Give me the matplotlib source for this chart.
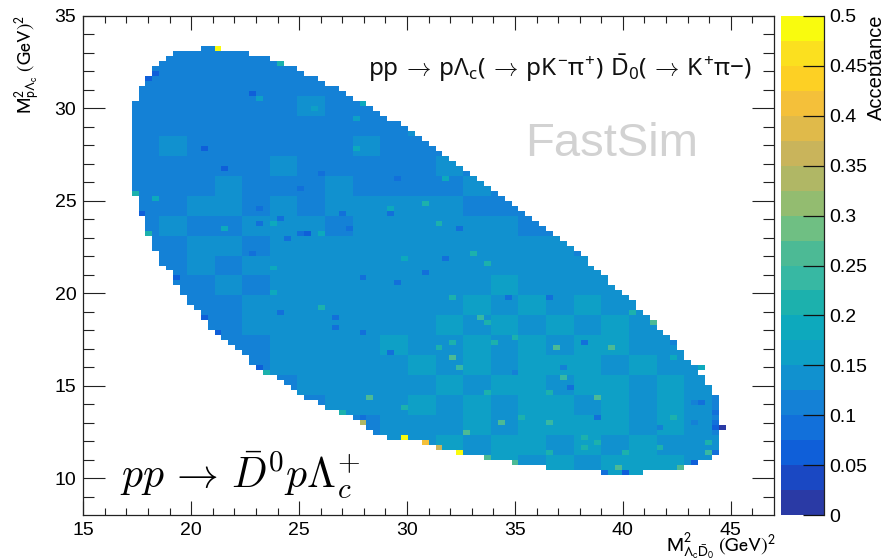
import numpy as np
import matplotlib
matplotlib.use("Agg")
import matplotlib.pyplot as plt
from matplotlib.colors import ListedColormap, BoundaryNorm

plt.rcParams['font.family'] = ['Liberation Sans', 'DejaVu Sans']
plt.rcParams['mathtext.fontset'] = 'custom'
plt.rcParams['mathtext.rm'] = 'Noto Sans'
plt.rcParams['mathtext.it'] = 'Noto Sans'
plt.rcParams['mathtext.bf'] = 'Noto Sans'
plt.rcParams['mathtext.default'] = 'it'

# 100 x 100 bins over the axis ranges
x_range = [15, 47]
y_range = [8, 35]
n_bins = 100

first_row = 8
row_first = [75,67,62,58,55,51,49,44,42,41,40,39,37,35,34,32,31,30,29,28,26,25,24,24,23,22,21,20,19,18,18,17,17,16,15,15,
             14,14,13,13,13,12,11,11,11,10,10,10,9,9,9,9,8,8,8,8,7,7,7,7,7,7,7,7,7,7,7,7,7,7,7,7,7,7,7,8,8,8,9,9,10,10,11,12,13,17]
row_last = [80,86,88,90,91,91,91,91,91,92,91,91,91,91,91,91,90,90,89,89,88,88,87,86,86,85,85,84,83,82,82,81,80,79,79,78,
            77,76,75,75,74,73,72,72,71,70,69,68,67,66,65,64,63,62,61,60,59,58,57,56,55,54,53,52,51,50,49,48,47,46,45,43,42,41,40,38,37,36,34,33,31,30,28,26,23,19]

# acceptance band (units of 0.025) read per 4x4 bin block, bottom row first
block_levels = [
    "4444444444555656566655",
    "4444444445565665656555",
    "4444444445556566665654",
    "4444444555656566565654",
    "4444445555565665665654",
    "4444455555656566656554",
    "4444455556556565665544",
    "4444555555565656565544",
    "4444555555556565655444",
    "4445455555555655554444",
    "4454555555555555544444",
    "4455455555555555444444",
    "4544555455555544444444",
    "4455454555554444444444",
    "4445444544445444444444",
    "4444454444454444444444",
    "4544444454444444444444",
    "4444444444544444444444",
    "4444445444444444444444",
    "4444444444444444444444",
    "4444444444444444444444",
    "4444444444444444444444",
]
block_first_col = 7

# individually visible bins: row, column, acceptance
cell_rows = [93,90,87,88,84,83,82,79,73,64,63,60,56,57,73,69,56,81,39,36,28,29,20,19,18,15,14,23,21,47,
             13,12,11,10,16,18,33,33,38,40,23,29,31,27,24,43,18,9,8,8,9,10,12,12,17,17,15,13,19,22,34,43,
             68,65,61,58,59,56,57,60,52,55,60,47,46,39,36,40,51,48,57,32,37,67,
             58,52,50,39,38,43,31,34,34,33,61,58,41,62,67,51,49,44,56,
             35,19,24,13,12,12,14,31,29,14,25,19,22,20,18,17,29,28,18,34]
cell_cols = [19,28,9,10,24,25,40,39,39,7,10,8,9,20,17,20,32,33,17,19,26,25,37,40,40,46,49,41,46,13,
             51,54,58,62,55,60,68,76,82,79,74,54,53,69,58,67,67,77,78,75,86,88,90,91,92,91,72,83,85,88,72,61,
             34,31,25,25,28,31,38,37,24,29,44,40,45,36,40,28,52,49,54,44,36,45,
             51,56,58,57,58,53,53,53,59,51,44,27,34,49,52,46,27,27,34,
             62,63,67,72,67,78,74,85,89,90,70,74,89,91,91,83,69,62,88,85]
cell_vals = [.49,.20,.06,.07,.07,.17,.18,.17,.19,.20,.19,.06,.20,.18,.07,.07,.07,.17,.06,.05,.20,.06,.20,.08,.33,.49,.40,.25,.22,.07,
             .36,.49,.25,.25,.25,.27,.27,.25,.27,.22,.27,.24,.23,.23,.22,.08,.23,.25,.07,.08,.25,.06,.23,.08,.02,.07,.22,.21,.20,.10,.08,.09,
             .09,.09,.09,.09,.09,.09,.09,.09,.09,.09,.09,.09,.09,.09,.09,.09,.09,.09,.09,.09,.09,.09,
             .20,.22,.22,.24,.22,.20,.25,.21,.21,.22,.19,.19,.20,.20,.18,.19,.18,.19,.18,
             .20,.22,.20,.20,.20,.20,.20,.18,.19,.20,.09,.09,.09,.09,.08,.10,.10,.10,.10,.10]

band_colors = ['#2a3aa5','#1a48c3','#0f5fd9','#1270da','#1481d6','#1191cf','#0ea0c6','#0da9bd','#1cb1ad','#37b8a3',
               '#4cba95','#6fbf83','#93bc70','#b0b765','#c9b45b','#e0ba4a','#f4c03a','#fdd024','#fbe01f','#f9fb0e']
band_edges = [k * 0.025 for k in range(21)]
bar_ticks = [0, 0.05, 0.1, 0.15, 0.2, 0.25, 0.3, 0.35, 0.4, 0.45, 0.5]
bar_labels = ['0', '0.05', '0.1', '0.15', '0.2', '0.25', '0.3', '0.35', '0.4', '0.45', '0.5']
x_ticks = [15, 20, 25, 30, 35, 40, 45]
y_ticks = [10, 15, 20, 25, 30, 35]

W, H = 881, 559
fig = plt.figure(figsize=(W / 100, H / 100), dpi=100)
L, R, T, B = 83.3, 774, 16, 515
ax = fig.add_axes([L / W, 1 - B / H, (R - L) / W, (B - T) / H])

xe = np.linspace(*x_range, n_bins + 1)
ye = np.linspace(*y_range, n_bins + 1)
grid = np.full((n_bins, n_bins), np.nan)
for k, (a, b) in enumerate(zip(row_first, row_last)):
    i = first_row + k
    for j in range(a, b + 1):
        grid[i, j] = (int(block_levels[k // 4][(j - block_first_col) // 4]) + 0.5) * 0.025
for i, j, v in zip(cell_rows, cell_cols, cell_vals):
    grid[i, j] = v

cmap = ListedColormap(band_colors)
norm = BoundaryNorm(band_edges, cmap.N)
ax.pcolormesh(xe, ye, np.ma.masked_invalid(grid), cmap=cmap, norm=norm, linewidth=0, antialiased=False)
ax.set_xlim(*x_range)
ax.set_ylim(*y_range)

fs = 14
ink = '#222222'
ax.set_xticks(x_ticks)
ax.set_yticks(y_ticks)
ax.set_xticks(np.arange(16, 47), minor=True)
ax.set_yticks(np.arange(9, 35), minor=True)
ax.tick_params(axis='x', which='major', direction='in', top=True, length=10, width=0.8, color=ink, labelsize=fs, pad=5, labelcolor='black')
ax.tick_params(axis='x', which='minor', direction='in', top=True, length=5, width=0.8, color=ink)
ax.tick_params(axis='y', which='major', direction='in', right=True, length=15.6, width=0.8, color=ink, labelsize=fs, pad=5, labelcolor='black')
ax.tick_params(axis='y', which='minor', direction='in', right=True, length=7.8, width=0.8, color=ink)
for s in ax.spines.values():
    s.set_linewidth(0.9)
    s.set_color(ink)

cax = fig.add_axes([781.3 / W, 1 - B / H, 43 / W, (B - T) / H])
cax.pcolormesh([0, 1], band_edges, np.array(band_edges[:-1]).reshape(-1, 1) + 0.0125, cmap=cmap, norm=norm, antialiased=False)
cax.set_xlim(0, 1)
cax.set_ylim(0, 0.5)
cax.set_xticks([])
cax.yaxis.tick_right()
cax.set_yticks(bar_ticks)
cax.set_yticklabels(bar_labels)
cax.tick_params(axis='y', direction='in', length=15.2, width=0.9, color='#111111', labelsize=fs, pad=3.5)
for n, s in cax.spines.items():
    s.set_visible(n == 'right')
    s.set_linewidth(0.9)
    s.set_color(ink)

def px(x, y):
    return x / W, 1 - y / H

fig.text(*px(612, 144), 'FastSim', color='#d2d2d2', fontsize=34, ha='center', va='center')
fig.text(*px(368, 76), r'$pp\,\rightarrow\,p\Lambda_{c}(\,\rightarrow\,pK^{-}\pi^{+})\ \bar{D}_{0}(\,\rightarrow\,K^{+}\pi{-})$',
         fontsize=17.5, ha='left', va='baseline', color='#111111', math_fontfamily='custom')
fig.text(*px(120, 488), r'$pp\,\rightarrow\,\bar{D}^{0}p\Lambda_{c}^{+}$', fontsize=30, ha='left', va='baseline',
         color='black', math_fontfamily='cm')
fig.text(*px(776, 552), r'$\mathrm{M}^{2}_{\Lambda_{\mathrm{c}}\bar{\mathrm{D}}_{0}}\ \mathrm{(GeV)}^{2}$', fontsize=14.5, ha='right', va='baseline', math_fontfamily='stixsans')
fig.text(*px(27, 114), r'$\mathrm{M}^{2}_{\mathrm{p}\Lambda_{\mathrm{c}}}\ \mathrm{(GeV)}^{2}$', fontsize=14, rotation=90, ha='center', va='bottom', math_fontfamily='stixsans')
fig.text(*px(876, 14), 'Acceptance', fontsize=14.5, rotation=90, ha='center', va='top')

fig.savefig('out.png', dpi=100)
